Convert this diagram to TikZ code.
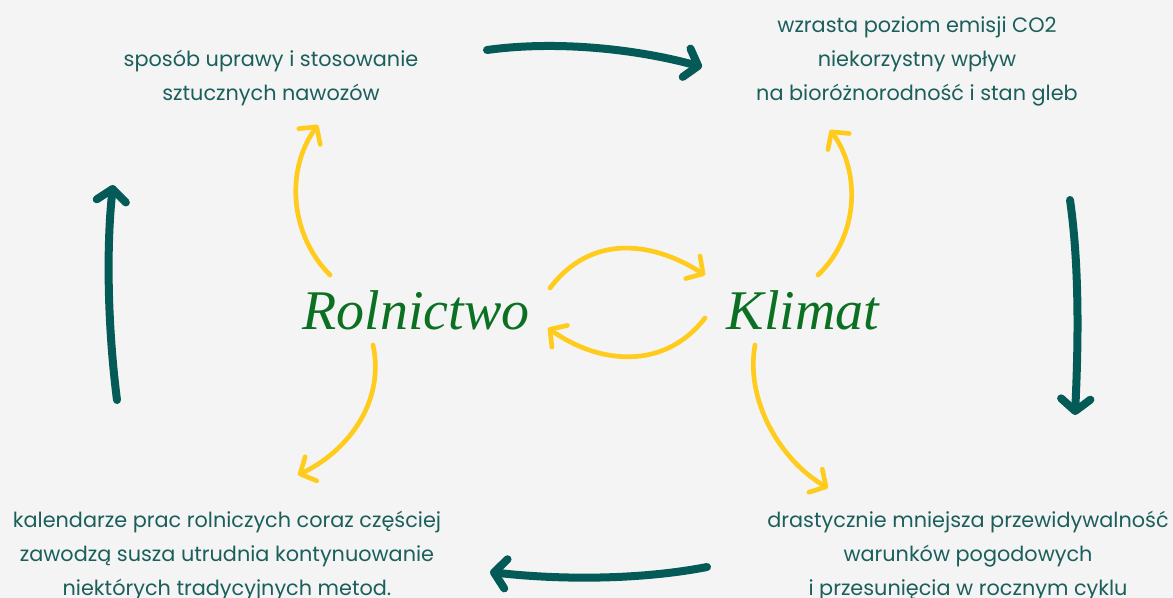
\documentclass[tikz,border=0pt]{standalone}
\usepackage{fontspec}
\setmainfont{Poppins}
\newfontfamily\titlefont{Liberation Serif}
\usetikzlibrary{arrows.meta}
\definecolor{bgcol}{HTML}{F4F4F4}
\definecolor{tealline}{HTML}{045A57}
\definecolor{tealtext}{HTML}{1B5F5C}
\definecolor{sunyellow}{HTML}{FFCC1D}
\definecolor{leafgreen}{HTML}{0B7022}

\begin{document}
\begin{tikzpicture}
    [
        x=0.75pt, y=-0.75pt,
        info_node/.style={align=center, text=tealtext, inner sep=0pt, font=\fontsize{15.6}{25.5}\selectfont},
        title_node/.style={text=leafgreen, inner sep=0pt, font=\titlefont\itshape\fontsize{42}{44}\selectfont},
        cycle_arrow/.style={draw=tealline, line width=6pt, line cap=round, -{Straight Barb[round, length=9pt, width=22pt]}},
        link_arrow/.style={draw=sunyellow, line width=3.5pt, line cap=round, -{Straight Barb[round, length=9pt, width=20pt]}},
    ]

  \fill[bgcol] (0,0) rectangle (1173,598);
  \useasboundingbox (0,0) rectangle (1173,598);

  \node[title_node] (rol) at (416,310) {Rolnictwo};
  \node[title_node] (kli) at (803,310) {Klimat};

  \node[info_node] (upr) at (271,78) {sposób uprawy i stosowanie\\sztucznych nawozów};
  \node[info_node] (emi) at (917,61) {wzrasta poziom emisji CO2\\niekorzystny wpływ\\na bioróżnorodność i stan gleb};
  \node[info_node] (kal) at (227,556) {kalendarze prac rolniczych coraz częściej\\zawodzą susza utrudnia kontynuowanie\\niektórych tradycyjnych metod.};
  \node[info_node] (prz) at (968,556) {drastycznie mniejsza przewidywalność\\warunków pogodowych\\i przesunięcia w rocznym cyklu};

  \coordinate (c1) at (487,50);   \coordinate (c2) at (702,67);
  \coordinate (c3) at (1070,200); \coordinate (c4) at (1075,415);
  \coordinate (c5) at (707,567);  \coordinate (c6) at (490,572);
  \coordinate (c7) at (117,400);  \coordinate (c8) at (113,185);

  \draw[cycle_arrow] (c1) .. controls (560,40) and (640,50) .. (c2);
  \draw[cycle_arrow] (c3) .. controls (1080,270) and (1078,350) .. (c4);
  \draw[cycle_arrow] (c5) .. controls (640,580) and (560,580) .. (c6);
  \draw[cycle_arrow] (c7) .. controls (108,330) and (106,250) .. (c8);

  \coordinate (y1) at (330,275); \coordinate (y2) at (318,125);
  \coordinate (y3) at (818,275); \coordinate (y4) at (830,130);
  \coordinate (y5) at (373,345); \coordinate (y6) at (298,475);
  \coordinate (y7) at (755,345); \coordinate (y8) at (828,488);
  \coordinate (y9) at (550,288); \coordinate (y10) at (705,275);
  \coordinate (y11) at (705,318); \coordinate (y12) at (548,328);

  \draw[link_arrow] (y1) .. controls (290,235) and (285,170) .. (y2);
  \draw[link_arrow] (y3) .. controls (860,235) and (860,170) .. (y4);
  \draw[link_arrow] (y5) .. controls (385,400) and (350,450) .. (y6);
  \draw[link_arrow] (y7) .. controls (745,400) and (780,460) .. (y8);
  \draw[link_arrow] (y9) .. controls (590,235) and (650,240) .. (y10);
  \draw[link_arrow] (y11) .. controls (665,370) and (600,365) .. (y12);
\end{tikzpicture}
\end{document}
